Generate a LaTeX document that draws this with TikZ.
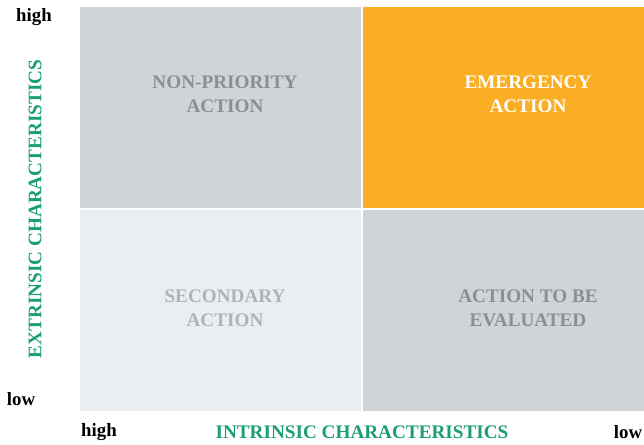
\documentclass[tikz,border=0pt]{standalone}
\usepackage{fontspec}
\setmainfont{Liberation Serif}

\definecolor{boxgrey}{HTML}{D1D4D7}
\definecolor{boxlight}{HTML}{EBEEF0}
\definecolor{boxorange}{HTML}{F9AE24}
\definecolor{txtgrey}{HTML}{8C8F92}
\definecolor{txtlight}{HTML}{B0B3B6}
\definecolor{axisgreen}{HTML}{1A9E77}

\begin{document}
\begin{tikzpicture}[x=1pt,y=-1pt,
    quad/.style={anchor=north west,inner sep=0pt,minimum width=281pt,minimum height=201pt},
    label/.style={font=\bfseries\fontsize{19.2}{24}\selectfont,align=center},
    tick/.style={font=\bfseries\fontsize{18.8}{22}\selectfont,text=black}]

    \useasboundingbox (0,0) rectangle (644,444);

    % quadrants
    \node[quad,fill=boxgrey]   (nw) at (80,7)    {};
    \node[quad,fill=boxorange] (ne) at (363,7)   {};
    \node[quad,fill=boxlight]  (sw) at (80,210)  {};
    \node[quad,fill=boxgrey]   (se) at (363,210) {};

    \node[label,text=txtgrey]  (nonprio) at (225,94)  {NON-PRIORITY\\ACTION};
    \node[label,text=white]    (emerg)   at (528,94)  {EMERGENCY\\ACTION};
    \node[label,text=txtlight] (second)  at (225,308) {SECONDARY\\ACTION};
    \node[label,text=txtgrey]  (evalu)   at (528,308) {ACTION TO BE\\EVALUATED};

    % axes
    \node[tick] (yhigh) at (34,17)   {high};
    \node[tick] (ylow)  at (21,399)  {low};
    \node[tick] (xhigh) at (99,432)  {high};
    \node[tick] (xlow)  at (628,432) {low};

    \node[label,text=axisgreen] (xaxis) at (362,432) {INTRINSIC CHARACTERISTICS};
    \node[label,text=axisgreen,rotate=90] (yaxis) at (35,209) {EXTRINSIC CHARACTERISTICS};

\end{tikzpicture}
\end{document}
